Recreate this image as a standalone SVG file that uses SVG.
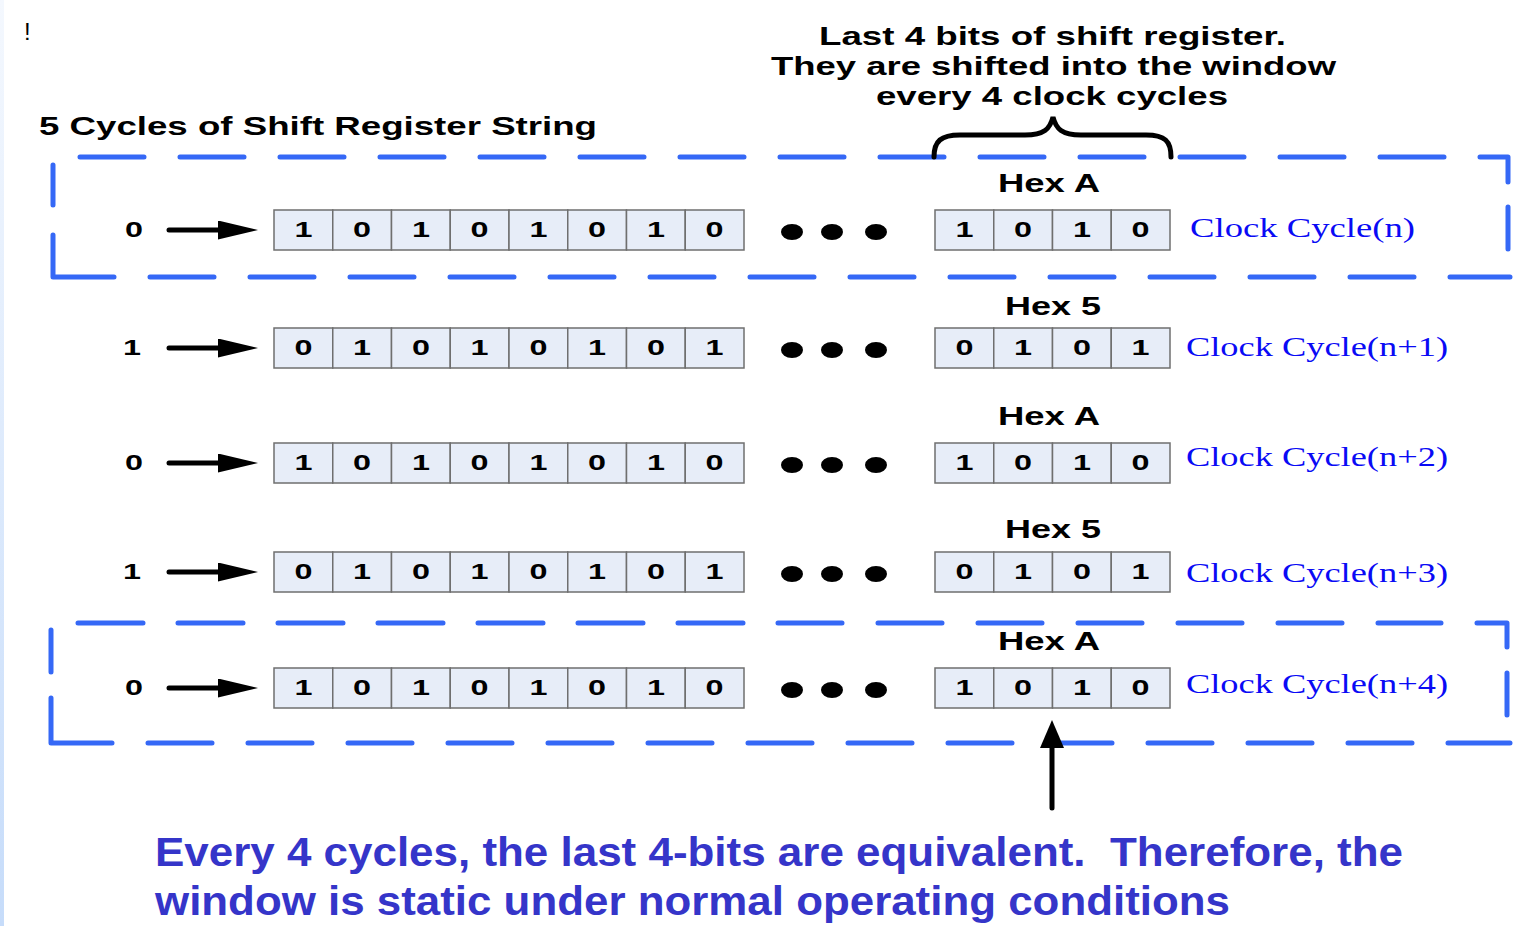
<svg xmlns="http://www.w3.org/2000/svg" width="1517" height="926" viewBox="0 0 1517 926">
<defs>
<linearGradient id="edge" x1="0" y1="0" x2="0" y2="1">
<stop offset="0" stop-color="#f4f8fe"/>
<stop offset="1" stop-color="#c6dcfa"/>
</linearGradient>
<marker id="ah" viewBox="0 0 40 19" refX="6" refY="9.5" markerWidth="40" markerHeight="19" markerUnits="userSpaceOnUse" orient="auto">
<path d="M0,0 L40,9.5 L0,19 Z" fill="#000"/>
</marker>
<marker id="ahUp" viewBox="0 0 28 24" refX="0" refY="12" markerWidth="28" markerHeight="24" markerUnits="userSpaceOnUse" orient="auto">
<path d="M0,0 L28,12 L0,24 Z" fill="#000"/>
</marker>
</defs>
<style>
.cell{fill:#e7edf8;stroke:#6f6f6f;stroke-width:1.5}
.bit{font-family:"Liberation Sans",Arial,sans-serif;font-weight:bold;font-size:22px;fill:#000;text-anchor:middle}
.inp{font-family:"Liberation Sans",Arial,sans-serif;font-weight:bold;font-size:22px;fill:#000;text-anchor:middle}
.hex{font-family:"Liberation Sans",Arial,sans-serif;font-weight:bold;font-size:25px;fill:#000}
.title{font-family:"Liberation Sans",Arial,sans-serif;font-weight:bold;font-size:25px;fill:#000}
.clk{font-family:"Liberation Serif","Times New Roman",serif;font-size:27px;fill:#0a0af5}
.note{font-family:"Liberation Sans",Arial,sans-serif;font-weight:bold;font-size:40px;fill:#3535c9}
.dash{fill:none;stroke:#3568f6;stroke-width:5;stroke-linecap:round;stroke-linejoin:round}
.dot{fill:#000}
.wire{stroke:#000;stroke-width:5;stroke-linecap:round;fill:none}
</style>
<rect x="0" y="0" width="1517" height="926" fill="#fff"/>
<rect x="0" y="0" width="4" height="926" fill="url(#edge)"/>

<text x="24" y="40" font-family="Liberation Sans, Arial, sans-serif" font-size="24" fill="#000">!</text>

<g id="title">
<text class="title" x="39" y="135" textLength="558" lengthAdjust="spacingAndGlyphs">5 Cycles of Shift Register String</text>
</g>

<g id="window-note">
<text class="title" x="819" y="45" textLength="467" lengthAdjust="spacingAndGlyphs">Last 4 bits of shift register.</text>
<text class="title" x="771" y="75" textLength="565" lengthAdjust="spacingAndGlyphs">They are shifted into the window</text>
<text class="title" x="876" y="105" textLength="352" lengthAdjust="spacingAndGlyphs">every 4 clock cycles</text>
</g>

<g id="box-top">
<path class="dash" d="M80,157h64 M180,157h64 M280,157h64 M380,157h64 M480,157h64 M580,157h64 M680,157h64 M780,157h64 M880,157h64 M980,157h64 M1080,157h64 M1180,157h64 M1280,157h64 M1380,157h64 M1480,157H1508V182 M1508,207V249 M53,165V205 M53,235V277H114 M150,277h64 M250,277h64 M350,277h64 M450,277h64 M550,277h64 M650,277h64 M750,277h64 M850,277h64 M950,277h64 M1050,277h64 M1150,277h64 M1250,277h64 M1350,277h64 M1450,277H1510"/>
</g>

<g id="box-bottom">
<path class="dash" d="M78,623h65 M178,623h65 M278,623h65 M378,623h65 M478,623h65 M578,623h65 M678,623h65 M778,623h64 M878,623h64 M978,623h64 M1078,623h64 M1178,623h64 M1278,623h64 M1378,623h63 M1477,623H1507V647 M1507,673V715 M51,630V672 M51,698V743H112 M148,743h64 M248,743h64 M348,743h64 M448,743h64 M548,743h64 M648,743h64 M748,743h64 M848,743h64 M948,743h64 M1048,743h64 M1148,743h64 M1248,743h64 M1348,743h64 M1448,743H1510"/>
</g>

<g id="brace">
<path class="wire" d="M934,157 C934,141 941,135 960,135 L1025,135 C1044,135 1050,129 1053,117 C1056,129 1062,135 1081,135 L1146,135 C1165,135 1171,141 1171,157"/>
</g>

<!-- Row 1 -->
<g id="row1">
<text class="inp" x="134" y="237" textLength="18" lengthAdjust="spacingAndGlyphs">0</text>
<g id="reg1">
<rect class="cell" x="274" y="210" width="58.75" height="40"/><rect class="cell" x="332.75" y="210" width="58.75" height="40"/><rect class="cell" x="391.5" y="210" width="58.75" height="40"/><rect class="cell" x="450.25" y="210" width="58.75" height="40"/><rect class="cell" x="509" y="210" width="58.75" height="40"/><rect class="cell" x="567.75" y="210" width="58.75" height="40"/><rect class="cell" x="626.5" y="210" width="58.75" height="40"/><rect class="cell" x="685.25" y="210" width="58.75" height="40"/>
<text class="bit" x="303.4" y="237" textLength="18" lengthAdjust="spacingAndGlyphs">1</text><text class="bit" x="362.1" y="237" textLength="18" lengthAdjust="spacingAndGlyphs">0</text><text class="bit" x="420.9" y="237" textLength="18" lengthAdjust="spacingAndGlyphs">1</text><text class="bit" x="479.6" y="237" textLength="18" lengthAdjust="spacingAndGlyphs">0</text><text class="bit" x="538.4" y="237" textLength="18" lengthAdjust="spacingAndGlyphs">1</text><text class="bit" x="597.1" y="237" textLength="18" lengthAdjust="spacingAndGlyphs">0</text><text class="bit" x="655.9" y="237" textLength="18" lengthAdjust="spacingAndGlyphs">1</text><text class="bit" x="714.6" y="237" textLength="18" lengthAdjust="spacingAndGlyphs">0</text>
</g>
<ellipse class="dot" cx="792" cy="232" rx="11" ry="8"/><ellipse class="dot" cx="832" cy="232" rx="11" ry="8"/><ellipse class="dot" cx="876" cy="232" rx="11" ry="8"/>
<g id="win1">
<rect class="cell" x="935" y="210" width="58.75" height="40"/><rect class="cell" x="993.75" y="210" width="58.75" height="40"/><rect class="cell" x="1052.5" y="210" width="58.75" height="40"/><rect class="cell" x="1111.25" y="210" width="58.75" height="40"/>
<text class="bit" x="964.4" y="237" textLength="18" lengthAdjust="spacingAndGlyphs">1</text><text class="bit" x="1023.1" y="237" textLength="18" lengthAdjust="spacingAndGlyphs">0</text><text class="bit" x="1081.9" y="237" textLength="18" lengthAdjust="spacingAndGlyphs">1</text><text class="bit" x="1140.6" y="237" textLength="18" lengthAdjust="spacingAndGlyphs">0</text>
</g>
<text class="hex" x="998" y="192" textLength="102" lengthAdjust="spacingAndGlyphs">Hex A</text>
<text class="clk" x="1190" y="237" textLength="225" lengthAdjust="spacingAndGlyphs">Clock Cycle(n)</text>
</g>

<!-- Row 2 -->
<g id="row2">
<text class="inp" x="132" y="355" textLength="18" lengthAdjust="spacingAndGlyphs">1</text>
<g id="reg2">
<rect class="cell" x="274" y="328" width="58.75" height="40"/><rect class="cell" x="332.75" y="328" width="58.75" height="40"/><rect class="cell" x="391.5" y="328" width="58.75" height="40"/><rect class="cell" x="450.25" y="328" width="58.75" height="40"/><rect class="cell" x="509" y="328" width="58.75" height="40"/><rect class="cell" x="567.75" y="328" width="58.75" height="40"/><rect class="cell" x="626.5" y="328" width="58.75" height="40"/><rect class="cell" x="685.25" y="328" width="58.75" height="40"/>
<text class="bit" x="303.4" y="355" textLength="18" lengthAdjust="spacingAndGlyphs">0</text><text class="bit" x="362.1" y="355" textLength="18" lengthAdjust="spacingAndGlyphs">1</text><text class="bit" x="420.9" y="355" textLength="18" lengthAdjust="spacingAndGlyphs">0</text><text class="bit" x="479.6" y="355" textLength="18" lengthAdjust="spacingAndGlyphs">1</text><text class="bit" x="538.4" y="355" textLength="18" lengthAdjust="spacingAndGlyphs">0</text><text class="bit" x="597.1" y="355" textLength="18" lengthAdjust="spacingAndGlyphs">1</text><text class="bit" x="655.9" y="355" textLength="18" lengthAdjust="spacingAndGlyphs">0</text><text class="bit" x="714.6" y="355" textLength="18" lengthAdjust="spacingAndGlyphs">1</text>
</g>
<ellipse class="dot" cx="792" cy="350" rx="11" ry="8"/><ellipse class="dot" cx="832" cy="350" rx="11" ry="8"/><ellipse class="dot" cx="876" cy="350" rx="11" ry="8"/>
<g id="win2">
<rect class="cell" x="935" y="328" width="58.75" height="40"/><rect class="cell" x="993.75" y="328" width="58.75" height="40"/><rect class="cell" x="1052.5" y="328" width="58.75" height="40"/><rect class="cell" x="1111.25" y="328" width="58.75" height="40"/>
<text class="bit" x="964.4" y="355" textLength="18" lengthAdjust="spacingAndGlyphs">0</text><text class="bit" x="1023.1" y="355" textLength="18" lengthAdjust="spacingAndGlyphs">1</text><text class="bit" x="1081.9" y="355" textLength="18" lengthAdjust="spacingAndGlyphs">0</text><text class="bit" x="1140.6" y="355" textLength="18" lengthAdjust="spacingAndGlyphs">1</text>
</g>
<text class="hex" x="1005" y="315" textLength="96" lengthAdjust="spacingAndGlyphs">Hex 5</text>
<text class="clk" x="1186" y="356" textLength="262" lengthAdjust="spacingAndGlyphs">Clock Cycle(n+1)</text>
</g>

<!-- Row 3 -->
<g id="row3">
<text class="inp" x="134" y="470" textLength="18" lengthAdjust="spacingAndGlyphs">0</text>
<g id="reg3">
<rect class="cell" x="274" y="443" width="58.75" height="40"/><rect class="cell" x="332.75" y="443" width="58.75" height="40"/><rect class="cell" x="391.5" y="443" width="58.75" height="40"/><rect class="cell" x="450.25" y="443" width="58.75" height="40"/><rect class="cell" x="509" y="443" width="58.75" height="40"/><rect class="cell" x="567.75" y="443" width="58.75" height="40"/><rect class="cell" x="626.5" y="443" width="58.75" height="40"/><rect class="cell" x="685.25" y="443" width="58.75" height="40"/>
<text class="bit" x="303.4" y="470" textLength="18" lengthAdjust="spacingAndGlyphs">1</text><text class="bit" x="362.1" y="470" textLength="18" lengthAdjust="spacingAndGlyphs">0</text><text class="bit" x="420.9" y="470" textLength="18" lengthAdjust="spacingAndGlyphs">1</text><text class="bit" x="479.6" y="470" textLength="18" lengthAdjust="spacingAndGlyphs">0</text><text class="bit" x="538.4" y="470" textLength="18" lengthAdjust="spacingAndGlyphs">1</text><text class="bit" x="597.1" y="470" textLength="18" lengthAdjust="spacingAndGlyphs">0</text><text class="bit" x="655.9" y="470" textLength="18" lengthAdjust="spacingAndGlyphs">1</text><text class="bit" x="714.6" y="470" textLength="18" lengthAdjust="spacingAndGlyphs">0</text>
</g>
<ellipse class="dot" cx="792" cy="465" rx="11" ry="8"/><ellipse class="dot" cx="832" cy="465" rx="11" ry="8"/><ellipse class="dot" cx="876" cy="465" rx="11" ry="8"/>
<g id="win3">
<rect class="cell" x="935" y="443" width="58.75" height="40"/><rect class="cell" x="993.75" y="443" width="58.75" height="40"/><rect class="cell" x="1052.5" y="443" width="58.75" height="40"/><rect class="cell" x="1111.25" y="443" width="58.75" height="40"/>
<text class="bit" x="964.4" y="470" textLength="18" lengthAdjust="spacingAndGlyphs">1</text><text class="bit" x="1023.1" y="470" textLength="18" lengthAdjust="spacingAndGlyphs">0</text><text class="bit" x="1081.9" y="470" textLength="18" lengthAdjust="spacingAndGlyphs">1</text><text class="bit" x="1140.6" y="470" textLength="18" lengthAdjust="spacingAndGlyphs">0</text>
</g>
<text class="hex" x="998" y="425" textLength="102" lengthAdjust="spacingAndGlyphs">Hex A</text>
<text class="clk" x="1186" y="466" textLength="262" lengthAdjust="spacingAndGlyphs">Clock Cycle(n+2)</text>
</g>

<!-- Row 4 -->
<g id="row4">
<text class="inp" x="132" y="579" textLength="18" lengthAdjust="spacingAndGlyphs">1</text>
<g id="reg4">
<rect class="cell" x="274" y="552" width="58.75" height="40"/><rect class="cell" x="332.75" y="552" width="58.75" height="40"/><rect class="cell" x="391.5" y="552" width="58.75" height="40"/><rect class="cell" x="450.25" y="552" width="58.75" height="40"/><rect class="cell" x="509" y="552" width="58.75" height="40"/><rect class="cell" x="567.75" y="552" width="58.75" height="40"/><rect class="cell" x="626.5" y="552" width="58.75" height="40"/><rect class="cell" x="685.25" y="552" width="58.75" height="40"/>
<text class="bit" x="303.4" y="579" textLength="18" lengthAdjust="spacingAndGlyphs">0</text><text class="bit" x="362.1" y="579" textLength="18" lengthAdjust="spacingAndGlyphs">1</text><text class="bit" x="420.9" y="579" textLength="18" lengthAdjust="spacingAndGlyphs">0</text><text class="bit" x="479.6" y="579" textLength="18" lengthAdjust="spacingAndGlyphs">1</text><text class="bit" x="538.4" y="579" textLength="18" lengthAdjust="spacingAndGlyphs">0</text><text class="bit" x="597.1" y="579" textLength="18" lengthAdjust="spacingAndGlyphs">1</text><text class="bit" x="655.9" y="579" textLength="18" lengthAdjust="spacingAndGlyphs">0</text><text class="bit" x="714.6" y="579" textLength="18" lengthAdjust="spacingAndGlyphs">1</text>
</g>
<ellipse class="dot" cx="792" cy="574" rx="11" ry="8"/><ellipse class="dot" cx="832" cy="574" rx="11" ry="8"/><ellipse class="dot" cx="876" cy="574" rx="11" ry="8"/>
<g id="win4">
<rect class="cell" x="935" y="552" width="58.75" height="40"/><rect class="cell" x="993.75" y="552" width="58.75" height="40"/><rect class="cell" x="1052.5" y="552" width="58.75" height="40"/><rect class="cell" x="1111.25" y="552" width="58.75" height="40"/>
<text class="bit" x="964.4" y="579" textLength="18" lengthAdjust="spacingAndGlyphs">0</text><text class="bit" x="1023.1" y="579" textLength="18" lengthAdjust="spacingAndGlyphs">1</text><text class="bit" x="1081.9" y="579" textLength="18" lengthAdjust="spacingAndGlyphs">0</text><text class="bit" x="1140.6" y="579" textLength="18" lengthAdjust="spacingAndGlyphs">1</text>
</g>
<text class="hex" x="1005" y="538" textLength="96" lengthAdjust="spacingAndGlyphs">Hex 5</text>
<text class="clk" x="1186" y="582" textLength="262" lengthAdjust="spacingAndGlyphs">Clock Cycle(n+3)</text>
</g>

<!-- Row 5 -->
<g id="row5">
<text class="inp" x="134" y="695" textLength="18" lengthAdjust="spacingAndGlyphs">0</text>
<g id="reg5">
<rect class="cell" x="274" y="668" width="58.75" height="40"/><rect class="cell" x="332.75" y="668" width="58.75" height="40"/><rect class="cell" x="391.5" y="668" width="58.75" height="40"/><rect class="cell" x="450.25" y="668" width="58.75" height="40"/><rect class="cell" x="509" y="668" width="58.75" height="40"/><rect class="cell" x="567.75" y="668" width="58.75" height="40"/><rect class="cell" x="626.5" y="668" width="58.75" height="40"/><rect class="cell" x="685.25" y="668" width="58.75" height="40"/>
<text class="bit" x="303.4" y="695" textLength="18" lengthAdjust="spacingAndGlyphs">1</text><text class="bit" x="362.1" y="695" textLength="18" lengthAdjust="spacingAndGlyphs">0</text><text class="bit" x="420.9" y="695" textLength="18" lengthAdjust="spacingAndGlyphs">1</text><text class="bit" x="479.6" y="695" textLength="18" lengthAdjust="spacingAndGlyphs">0</text><text class="bit" x="538.4" y="695" textLength="18" lengthAdjust="spacingAndGlyphs">1</text><text class="bit" x="597.1" y="695" textLength="18" lengthAdjust="spacingAndGlyphs">0</text><text class="bit" x="655.9" y="695" textLength="18" lengthAdjust="spacingAndGlyphs">1</text><text class="bit" x="714.6" y="695" textLength="18" lengthAdjust="spacingAndGlyphs">0</text>
</g>
<ellipse class="dot" cx="792" cy="690" rx="11" ry="8"/><ellipse class="dot" cx="832" cy="690" rx="11" ry="8"/><ellipse class="dot" cx="876" cy="690" rx="11" ry="8"/>
<g id="win5">
<rect class="cell" x="935" y="668" width="58.75" height="40"/><rect class="cell" x="993.75" y="668" width="58.75" height="40"/><rect class="cell" x="1052.5" y="668" width="58.75" height="40"/><rect class="cell" x="1111.25" y="668" width="58.75" height="40"/>
<text class="bit" x="964.4" y="695" textLength="18" lengthAdjust="spacingAndGlyphs">1</text><text class="bit" x="1023.1" y="695" textLength="18" lengthAdjust="spacingAndGlyphs">0</text><text class="bit" x="1081.9" y="695" textLength="18" lengthAdjust="spacingAndGlyphs">1</text><text class="bit" x="1140.6" y="695" textLength="18" lengthAdjust="spacingAndGlyphs">0</text>
</g>
<text class="hex" x="998" y="650" textLength="102" lengthAdjust="spacingAndGlyphs">Hex A</text>
<text class="clk" x="1186" y="693" textLength="262" lengthAdjust="spacingAndGlyphs">Clock Cycle(n+4)</text>
</g>

<g id="connectors">
<line class="wire" x1="169" y1="230" x2="224" y2="230" marker-end="url(#ah)"/>
<line class="wire" x1="169" y1="348" x2="224" y2="348" marker-end="url(#ah)"/>
<line class="wire" x1="169" y1="463" x2="224" y2="463" marker-end="url(#ah)"/>
<line class="wire" x1="169" y1="572" x2="224" y2="572" marker-end="url(#ah)"/>
<line class="wire" x1="169" y1="688" x2="224" y2="688" marker-end="url(#ah)"/>
<line class="wire" x1="1052" y1="808" x2="1052" y2="748" marker-end="url(#ahUp)"/>
</g>

<g id="conclusion">
<text class="note" x="155" y="866" textLength="1248" lengthAdjust="spacingAndGlyphs" xml:space="preserve">Every 4 cycles, the last 4-bits are equivalent.  Therefore, the</text>
<text class="note" x="155" y="915" textLength="1075" lengthAdjust="spacingAndGlyphs">window is static under normal operating conditions</text>
</g>
</svg>
